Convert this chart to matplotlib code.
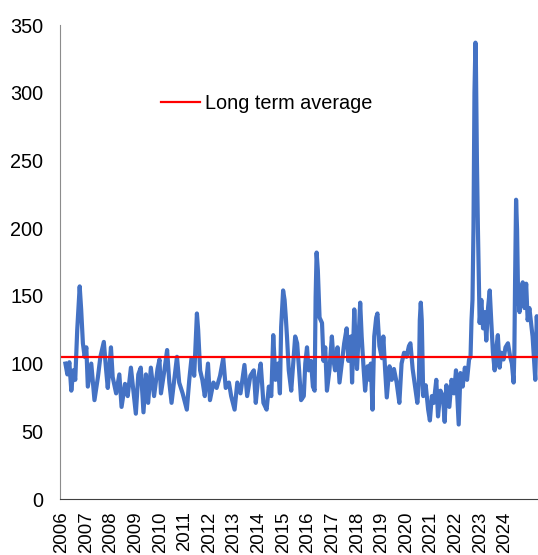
import matplotlib
matplotlib.use("Agg")
import matplotlib.pyplot as plt

plt.rcParams['font.family'] = ['Liberation Sans', 'DejaVu Sans']

# decimal year, index value
dates = [
    2006.15, 2006.23, 2006.31, 2006.39, 2006.47, 2006.55, 2006.63, 2006.73, 2006.79, 2006.86,
    2006.93, 2007.00, 2007.06, 2007.20, 2007.33, 2007.47, 2007.57, 2007.71, 2007.80, 2007.87,
    2008.00, 2008.07, 2008.21, 2008.34, 2008.43, 2008.57, 2008.68, 2008.81, 2009.01, 2009.11,
    2009.21, 2009.32, 2009.42, 2009.51, 2009.62, 2009.75, 2009.89, 2009.97, 2010.03, 2010.17,
    2010.28, 2010.37, 2010.46, 2010.57, 2010.68, 2010.77, 2010.91, 2011.08, 2011.18, 2011.27,
    2011.38, 2011.49, 2011.54, 2011.62, 2011.71, 2011.81, 2011.94, 2012.02, 2012.16, 2012.29,
    2012.43, 2012.56, 2012.66, 2012.79, 2012.88, 2013.02, 2013.13, 2013.26, 2013.42, 2013.53,
    2013.66, 2013.80, 2013.88, 2013.97, 2014.08, 2014.19, 2014.32, 2014.41, 2014.51, 2014.59,
    2014.68, 2014.78, 2014.86, 2014.91, 2014.99, 2015.05, 2015.10, 2015.15, 2015.22, 2015.32,
    2015.40, 2015.48, 2015.56, 2015.64, 2015.72, 2015.83, 2015.89, 2015.96, 2016.03, 2016.12,
    2016.20, 2016.27, 2016.31, 2016.35, 2016.40, 2016.47, 2016.57, 2016.63, 2016.70, 2016.77,
    2016.87, 2016.97, 2017.04, 2017.10, 2017.20, 2017.28, 2017.37, 2017.47, 2017.57, 2017.64,
    2017.74, 2017.79, 2017.88, 2017.94, 2017.99, 2018.07, 2018.12, 2018.18, 2018.26, 2018.32,
    2018.42, 2018.50, 2018.55, 2018.62, 2018.69, 2018.77, 2018.82, 2018.90, 2019.00, 2019.06,
    2019.13, 2019.20, 2019.31, 2019.40, 2019.49, 2019.60, 2019.71, 2019.80, 2019.90, 2020.00,
    2020.10, 2020.16, 2020.25, 2020.34, 2020.44, 2020.50, 2020.54, 2020.58, 2020.62, 2020.68,
    2020.78, 2020.88, 2020.95, 2021.03, 2021.11, 2021.21, 2021.28, 2021.38, 2021.48, 2021.55,
    2021.62, 2021.74, 2021.83, 2021.93, 2022.01, 2022.12, 2022.19, 2022.28, 2022.37, 2022.46,
    2022.54, 2022.60, 2022.64, 2022.68, 2022.72, 2022.76, 2022.80, 2022.82, 2022.86, 2022.90,
    2022.95, 2022.97, 2023.04, 2023.11, 2023.18, 2023.24, 2023.31, 2023.38, 2023.44, 2023.51,
    2023.58, 2023.65, 2023.71, 2023.78, 2023.85, 2023.94, 2024.02, 2024.12, 2024.21, 2024.28,
    2024.35, 2024.38, 2024.41, 2024.45, 2024.49, 2024.53, 2024.59, 2024.65, 2024.72, 2024.79,
    2024.86, 2024.92, 2024.99, 2025.06, 2025.12, 2025.19, 2025.23, 2025.29, 2025.33,
]
index_values = [
    100, 92, 101, 80, 95, 88, 125, 157, 140, 115,
    105, 112, 83, 100, 73, 90, 105, 116, 96, 82,
    112, 90, 78, 92, 68, 85, 76, 97, 63, 92,
    97, 64, 92, 71, 97, 76, 96, 103, 78, 95,
    110, 86, 71, 88, 105, 86, 78, 66, 88, 104,
    91, 137, 125, 95, 88, 76, 100, 73, 86, 82,
    91, 104, 82, 86, 76, 66, 86, 78, 99, 76,
    91, 95, 71, 88, 100, 71, 66, 83, 76, 121,
    88, 100, 78, 127, 154, 147, 134, 119, 95, 80,
    100, 120, 115, 95, 73, 76, 100, 112, 95, 102,
    83, 80, 149, 182, 169, 134, 130, 102, 112, 80,
    95, 120, 102, 95, 112, 86, 100, 115, 126, 102,
    120, 86, 140, 113, 96, 125, 145, 120, 96, 80,
    98, 88, 100, 66, 120, 134, 137, 113, 104, 120,
    96, 75, 98, 88, 96, 86, 71, 100, 108, 105,
    113, 115, 96, 84, 71, 84, 132, 145, 132, 76,
    84, 66, 58, 76, 71, 88, 61, 80, 76, 57,
    84, 68, 88, 78, 95, 55, 93, 83, 97, 88,
    103, 105, 132, 147, 200, 300, 337, 320, 250, 200,
    149, 130, 147, 126, 138, 117, 141, 154, 132, 108,
    95, 112, 121, 97, 108, 103, 112, 115, 105, 100,
    86, 108, 162, 221, 199, 152, 138, 154, 160, 141,
    159, 132, 141, 130, 120, 100, 88, 135, 118,
]

long_term_average = 105
years = list(range(2006, 2025))

fig = plt.figure(figsize=(5.38, 5.55), dpi=100)
ax = fig.add_axes([0.1115, 0.1009, 0.8885, 0.854])

ax.plot(dates, index_values, color='#4472C4', linewidth=3.0, solid_joinstyle='round')
ax.axhline(long_term_average, color='#FF0000', linewidth=1.6, label='Long term average')

ax.set_ylim(0, 350)
ax.set_yticks(range(0, 351, 50))
ax.set_xlim(2005.93, 2025.34)
ax.set_xticks(years)
ax.set_xticklabels([str(y) for y in years], rotation=90)

ax.tick_params(axis='y', length=0, pad=12, labelsize=14.3)
ax.tick_params(axis='x', length=0, pad=9, labelsize=13.4)

for side in ['top', 'right']:
    ax.spines[side].set_visible(False)
ax.spines['left'].set_color('#8c8c8c')
ax.spines['bottom'].set_color('#404040')

ax.legend(loc='center left', bbox_to_anchor=(0.211, 0.834), frameon=False,
          fontsize=14.3, handlelength=1.95, handletextpad=0.25,
          borderpad=0, borderaxespad=0)

fig.savefig('out.png', dpi=100)
